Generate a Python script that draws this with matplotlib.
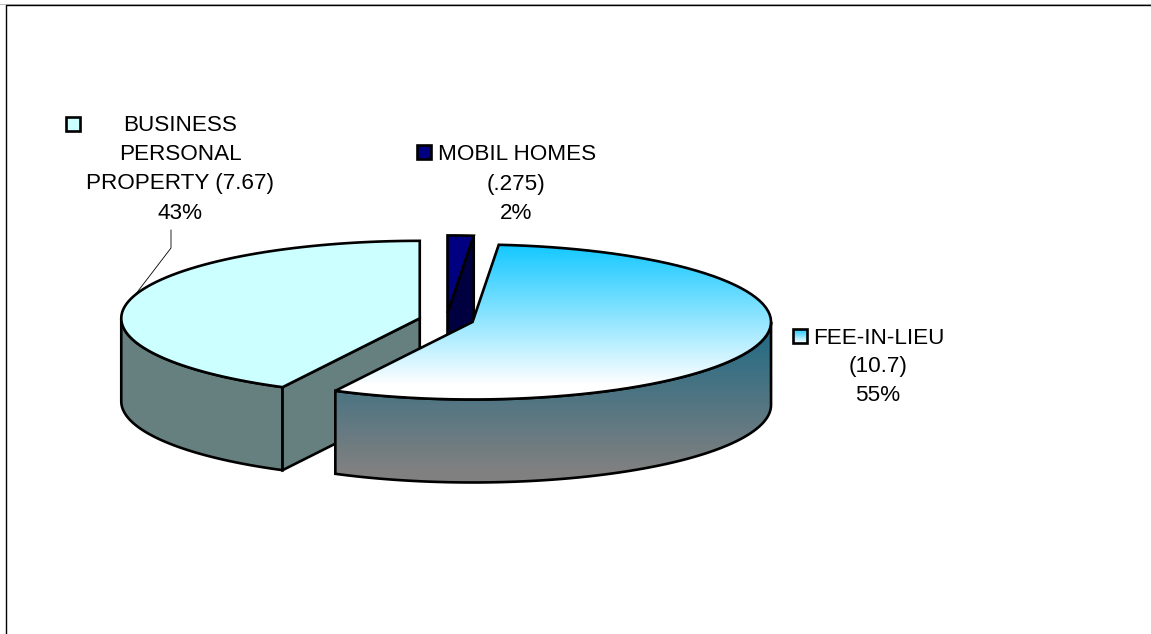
import numpy as np
import matplotlib
matplotlib.use("Agg")
import matplotlib.pyplot as plt
from matplotlib.patches import Polygon
from matplotlib.colors import LinearSegmentedColormap

# data, clockwise from 12 o'clock
categories = ["MOBIL HOMES", "FEE-IN-LIEU", "BUSINESS PERSONAL PROPERTY"]
amounts = ["(.275)", "(10.7)", "(7.67)"]
percentLabels = ["2%", "55%", "43%"]
# the slice sizes as drawn (they differ a bit from the labels)
shares = [1.4, 56.2, 42.4]

plt.rcParams['font.family'] = ['Liberation Sans', 'DejaVu Sans']

centerX, centerY = 446.3, 320.0
radX, radY = 298.5, 77.5
depth = 83
explode = 0.0915
edge = 1.9


def gradient(ax, patch, top, bottom, y0, y1):
	cmap = LinearSegmentedColormap.from_list("g", [top, bottom])
	grad = np.clip((np.arange(634) + 0.5 - y0) / (y1 - y0), 0, 1).reshape(-1, 1)
	im = ax.imshow(grad, cmap=cmap, vmin=0, vmax=1, extent=(0, 1151, 634, 0), aspect="auto", zorder=patch.get_zorder(), interpolation="nearest")
	im.set_clip_path(patch)


def arc(cx, cy, a0, a1, n=80):
	t = np.radians(np.linspace(a0, a1, n))
	return np.column_stack([cx + radX * np.sin(t), cy - radY * np.cos(t)])


def face(ax, pts, z, color=None, lw=edge):
	p = Polygon(pts, closed=True, facecolor=color if color else "none", edgecolor="black", lw=lw, zorder=z, joinstyle="miter")
	ax.add_patch(p)
	return p


def gradFace(ax, pts, z, top, bottom, y0, y1, lw=edge):
	clip = Polygon(pts, closed=True, facecolor="none", edgecolor="none", zorder=z)
	ax.add_patch(clip)
	gradient(ax, clip, top, bottom, y0, y1)
	face(ax, pts, z + 0.5, lw=lw)


fig = plt.figure(figsize=(11.51, 6.34), dpi=100)
ax = fig.add_axes([0, 0, 1, 1])
ax.axis("off")

# work out the slices from the shares
edges = np.concatenate([[0], np.cumsum(shares)]) * 3.6
mids = (edges[:-1] + edges[1:]) / 2
offX = centerX + explode * radX * np.sin(np.radians(mids))
offY = centerY - explode * radY * np.cos(np.radians(mids))

# business slice
a0, a1 = edges[2], edges[3]
cx, cy = offX[2], offY[2]
rim = arc(cx, cy, a0, 270)
face(ax, np.vstack([rim, rim[::-1] + [0, depth]]), 2, "#668080")
tip = arc(cx, cy, a0, a0, 1)
cut = np.array([[cx, cy], tip[0], tip[0] + [0, depth], [cx, cy + depth]])
face(ax, cut, 2, "#668080")
face(ax, np.vstack([[[cx, cy]], arc(cx, cy, a0, a1)]), 3, "#CCFFFF")

# mobile homes slice
a0, a1 = edges[0], edges[1]
cx, cy = offX[0], offY[0]
end = arc(cx, cy, a1, a1, 1)[0]
face(ax, np.array([[cx, cy], end, end + [0, depth], [cx, cy + depth]]), 4, "#000040")
face(ax, np.vstack([[[cx, cy]], arc(cx, cy, a0, a1)]), 4, "#000080")

# fee-in-lieu slice, gradient filled
a0, a1 = edges[1], edges[2]
cx, cy = offX[1], offY[1]
rim = arc(cx, cy, 90, a1)
gradFace(ax, np.vstack([rim, rim[::-1] + [0, depth]]), 5, "#1F6A85", "#808080", 325, 470)
gradFace(ax, np.vstack([[[cx, cy]], arc(cx, cy, a0, a1)]), 6, "#14C8FF", "#FFFFFF", 245, 385)

# leader line for the business label
ax.plot([171, 171, 135], [230, 248, 295], color="black", lw=0.6, zorder=7)

# labels
fs = 16.2
ax.text(180.5, 131, "BUSINESS", ha="center", va="baseline", fontsize=fs)
ax.text(180.5, 160, "PERSONAL", ha="center", va="baseline", fontsize=fs)
ax.text(180.5, 189, "PROPERTY " + amounts[2], ha="center", va="baseline", fontsize=fs)
ax.text(180.5, 219, percentLabels[2], ha="center", va="baseline", fontsize=fs)
ax.text(438, 160, categories[0], ha="left", va="baseline", fontsize=fs)
ax.text(516, 190, amounts[0], ha="center", va="baseline", fontsize=fs)
ax.text(516, 219, percentLabels[0], ha="center", va="baseline", fontsize=fs)
ax.text(813, 344, categories[1], ha="left", va="baseline", fontsize=fs)
ax.text(878, 372, amounts[1], ha="center", va="baseline", fontsize=fs)
ax.text(878, 401, percentLabels[1], ha="center", va="baseline", fontsize=fs)

# legend keys next to the labels
face(ax, [(66, 117), (80, 117), (80, 131), (66, 131)], 8, "#CCFFFF")
face(ax, [(417.5, 145), (431.5, 145), (431.5, 159), (417.5, 159)], 8, "#000080")
gradFace(ax, [(793, 329), (807, 329), (807, 343), (793, 343)], 8, "#14C8FF", "#FFFFFF", 329, 343)

# chart area border, only top and left fall inside the image
ax.plot([0, 1151], [3.5, 3.5], color="#BBBBBB", lw=0.7, zorder=1)
ax.plot([6.5, 6.5, 1151], [634, 4.5, 4.5], color="black", lw=1.0, zorder=9)

ax.set_xlim(0, 1151)
ax.set_ylim(634, 0)
fig.savefig("out.png", dpi=100, facecolor="white")
